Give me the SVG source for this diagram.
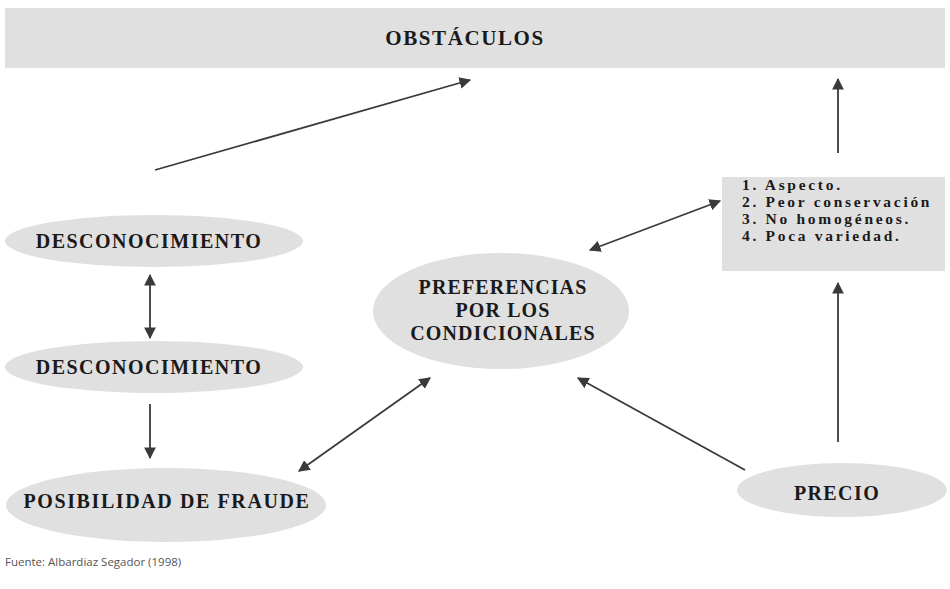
<svg xmlns="http://www.w3.org/2000/svg" width="950" height="589" viewBox="0 0 950 589">
<defs>
<style>
.node{fill:#e0e0e0;stroke:none}
.lbl{font-weight:bold;fill:#1a1a1a;text-anchor:middle}
.list{font-weight:bold;fill:#1a1a1a;font-size:15.5px;letter-spacing:2.7px}
.edge{stroke:#3a3a3a;stroke-width:1.8;fill:none}
.foot{font-size:11.5px;fill:#555}
</style>
<marker id="ah" viewBox="0 0 10 10" refX="9" refY="5" markerWidth="6.5" markerHeight="6.5" orient="auto-start-reverse">
<path d="M0,0 L10,5 L0,10 z" fill="#3a3a3a"/>
</marker>
</defs>
<rect width="950" height="589" fill="#ffffff"/>
<g id="obstaculos">
<rect class="node" x="5" y="8" width="940" height="60"/>
<text class="lbl" font-family="Liberation Serif, serif" x="465" y="45" font-size="21" letter-spacing="1.6">OBSTÁCULOS</text>
</g>
<g id="lista">
<rect class="node" x="722" y="177" width="223" height="94"/>
<text class="list" font-family="Liberation Serif, serif" x="742" y="189.5">1. Aspecto.</text>
<text class="list" font-family="Liberation Serif, serif" x="742" y="206.5">2. Peor conservación</text>
<text class="list" font-family="Liberation Serif, serif" x="742" y="223.5">3. No homogéneos.</text>
<text class="list" font-family="Liberation Serif, serif" x="742" y="240.5">4. Poca variedad.</text>
</g>
<g id="desc1">
<ellipse class="node" cx="154" cy="241" rx="149" ry="26"/>
<text class="lbl" font-family="Liberation Serif, serif" x="149" y="248" font-size="20" letter-spacing="1.5">DESCONOCIMIENTO</text>
</g>
<g id="desc2">
<ellipse class="node" cx="154" cy="367" rx="149" ry="26"/>
<text class="lbl" font-family="Liberation Serif, serif" x="149" y="374" font-size="20" letter-spacing="1.5">DESCONOCIMIENTO</text>
</g>
<g id="fraude">
<ellipse class="node" cx="166" cy="505" rx="160" ry="37"/>
<text class="lbl" font-family="Liberation Serif, serif" x="167" y="508" font-size="20" letter-spacing="1.6">POSIBILIDAD DE FRAUDE</text>
</g>
<g id="preferencias">
<ellipse class="node" cx="501" cy="311" rx="128" ry="58"/>
<text class="lbl" font-family="Liberation Serif, serif" x="503" y="294" font-size="20" letter-spacing="1.1">PREFERENCIAS</text>
<text class="lbl" font-family="Liberation Serif, serif" x="503" y="317" font-size="20" letter-spacing="1.1">POR LOS</text>
<text class="lbl" font-family="Liberation Serif, serif" x="503" y="340" font-size="20" letter-spacing="1.1">CONDICIONALES</text>
</g>
<g id="precio">
<ellipse class="node" cx="842" cy="490" rx="105" ry="27"/>
<text class="lbl" font-family="Liberation Serif, serif" x="837" y="500" font-size="20" letter-spacing="1.4">PRECIO</text>
</g>
<g id="connectors">
<line class="edge" x1="155" y1="170" x2="470" y2="80" marker-end="url(#ah)"/>
<line class="edge" x1="838" y1="153" x2="838" y2="79" marker-end="url(#ah)"/>
<line class="edge" x1="590" y1="250" x2="720" y2="201" marker-start="url(#ah)" marker-end="url(#ah)"/>
<line class="edge" x1="838" y1="442" x2="838" y2="283" marker-end="url(#ah)"/>
<line class="edge" x1="150" y1="275" x2="150" y2="338" marker-start="url(#ah)" marker-end="url(#ah)"/>
<line class="edge" x1="150" y1="404" x2="150" y2="458" marker-end="url(#ah)"/>
<line class="edge" x1="299" y1="471" x2="430" y2="378" marker-start="url(#ah)" marker-end="url(#ah)"/>
<line class="edge" x1="745" y1="470" x2="578" y2="378" marker-end="url(#ah)"/>
</g>
<text class="foot" font-family="Open Sans, DejaVu Sans, sans-serif" x="5" y="566">Fuente: Albardiaz Segador (1998)</text>
</svg>
